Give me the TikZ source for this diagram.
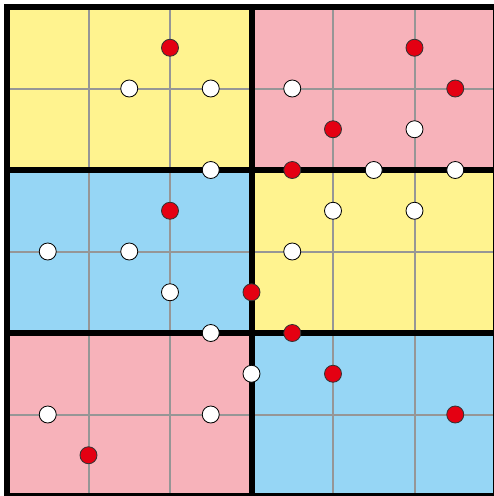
\documentclass[tikz,border=0pt]{standalone}
\definecolor{cyel}{RGB}{255,243,143}
\definecolor{cpink}{RGB}{247,178,186}
\definecolor{cblue}{RGB}{150,214,245}
\definecolor{cred}{RGB}{228,0,18}
\definecolor{cgrid}{RGB}{150,150,150}
\tikzset{
  dotw/.style={circle,draw=black,line width=0.8pt,fill=white,minimum size=17pt,inner sep=0pt},
  dotr/.style={circle,draw=black!80,line width=0.8pt,fill=cred,minimum size=17pt,inner sep=0pt},
  thin grid/.style={draw=cgrid,line width=2pt},
  thick sep/.style={draw=black,line width=6pt}
}
\begin{document}
\begin{tikzpicture}[x=1pt,y=-1pt]
\useasboundingbox (0,0) rectangle (494,496);
\clip (0,0) rectangle (494,496);
\def\s{81.5}
% blocks
\fill[cyel]  (7,7) rectangle (251.5,170);
\fill[cpink] (251.5,7) rectangle (496,170);
\fill[cblue] (7,170) rectangle (251.5,333);
\fill[cyel]  (251.5,170) rectangle (496,333);
\fill[cpink] (7,333) rectangle (251.5,496);
\fill[cblue] (251.5,333) rectangle (496,496);
% thin grid
\foreach \i in {1,2,4,5} {
  \draw[thin grid] ({7+\i*\s},7) -- ({7+\i*\s},496);
}
\foreach \j in {1,3,5} {
  \draw[thin grid] (7,{7+\j*\s}) -- (496,{7+\j*\s});
}
% thick separators
\draw[thick sep] (251.5,7) -- (251.5,496);
\draw[thick sep] (7,170) -- (496,170);
\draw[thick sep] (7,333) -- (496,333);
\draw[thick sep] (7,7) rectangle (496,496);
% dots (half-cell units)
\def\h{40.75}
\foreach \n/\a/\b in {r1/4/1, r2/10/1, r3/11/2, r4/8/3, r5/7/4, r6/4/5, r7/6/7, r8/7/8, r9/8/9, r10/11/10, r11/2/11} {
  \node[dotr] (\n) at ({7+\a*\h},{7+\b*\h}) {};
}
\foreach \n/\a/\b in {w1/3/2, w2/5/2, w3/7/2, w4/10/3, w5/5/4, w6/9/4, w7/11/4, w8/8/5, w9/10/5, w10/1/6, w11/3/6, w12/7/6, w13/4/7, w14/5/8, w15/6/9, w16/1/10, w17/5/10} {
  \node[dotw] (\n) at ({7+\a*\h},{7+\b*\h}) {};
}
\end{tikzpicture}
\end{document}
